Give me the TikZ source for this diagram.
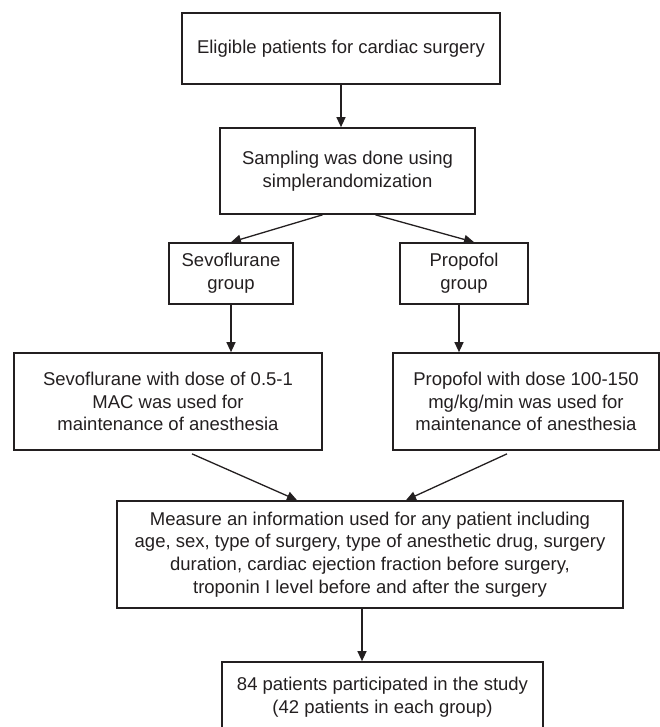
\documentclass[tikz,border=0pt]{standalone}
\usepackage{fontspec}
\setmainfont{Liberation Sans}
\usetikzlibrary{arrows.meta}
\definecolor{ink}{HTML}{231F20}
\begin{document}
\begin{tikzpicture}[x=1pt,y=-1pt,
  box/.style={draw=ink,line width=1.7pt,inner sep=0pt,align=center,text=ink,
    font=\fontsize{18.5}{22.7}\selectfont},
  conn/.style={draw=ink,line width=1.3pt,-{Triangle[length=10pt,width=9pt]}}]
\useasboundingbox (0,0) rectangle (660,727);
\node[box,minimum width=318pt,minimum height=71pt] (elig) at (341,48.5)
  {Eligible patients for cardiac surgery};
\node[box,minimum width=255pt,minimum height=86pt] (samp) at (347.5,171)
  {Sampling was done using\\simplerandomization};
\node[box,minimum width=124pt,minimum height=61pt] (sevg) at (231,273.5)
  {Sevoflurane\\group};
\node[box,minimum width=128pt,minimum height=61pt] (prog) at (464,273.5)
  {Propofol\\group};
\node[box,minimum width=308pt,minimum height=97pt] (sevd) at (168,401.5)
  {Sevoflurane with dose of 0.5-1\\MAC was used for\\maintenance of anesthesia};
\node[box,minimum width=266pt,minimum height=97pt] (prod) at (526,401.5)
  {Propofol with dose 100-150\\mg/kg/min was used for\\maintenance of anesthesia};
\node[box,minimum width=506pt,minimum height=107pt] (meas) at (370,554.5)
  {Measure an information used for any patient including\\age, sex, type of surgery, type of anesthetic drug, surgery\\duration, cardiac ejection fraction before surgery,\\troponin I level before and after the surgery};
\node[box,minimum width=321pt,minimum height=70pt] (final) at (382.5,697)
  {84 patients participated in the study\\(42 patients in each group)};

\draw[conn] (elig) -- (elig |- samp.north);
\draw[conn] ([xshift=-25pt]samp.south) -- (sevg.north);
\draw[conn] ([xshift=28pt]samp.south) -- ([xshift=10pt]prog.north);
\draw[conn] (sevg) -- (sevg |- sevd.north);
\coordinate (pa) at ([xshift=-5pt]prog.south);
\draw[conn] (pa) -- (pa |- prod.north);
\draw[conn] ([xshift=24pt,yshift=-3pt]sevd.south) -- ([xshift=-73pt]meas.north);
\draw[conn] ([xshift=-19pt,yshift=-3pt]prod.south) -- ([xshift=36pt]meas.north);
\coordinate (pb) at ([xshift=-8pt]meas.south);
\draw[conn] (pb) -- (pb |- final.north);
\end{tikzpicture}
\end{document}
